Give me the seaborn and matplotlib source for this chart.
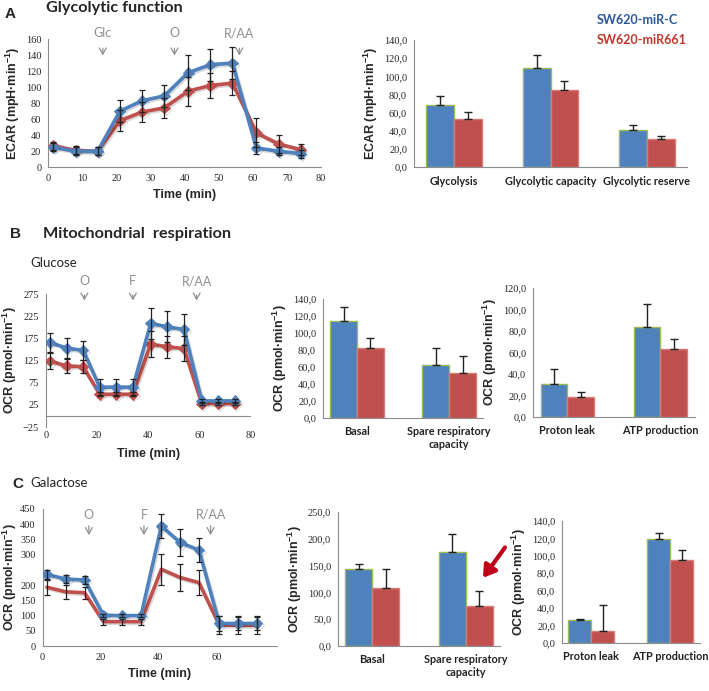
import matplotlib
matplotlib.use('Agg')
import matplotlib.pyplot as plt
import matplotlib.patheffects as pe
from matplotlib.ticker import FuncFormatter
import pandas as pd
import seaborn as sns

# ---- data -------------------------------------------------------------
times = [1.5, 8, 14.5, 21, 27.5, 34, 41, 47.5, 54, 61, 67.5, 74]

# A: glycolytic function (ECAR)
ecar_c = [25, 20, 20, 70, 83, 89, 118, 128, 130, 24, 20, 17]
ecar_c_err = [5, 5, 5, 14, 14, 14, 22, 20, 20, 8, 5, 5]
ecar_661 = [27, 21, 20, 58, 69, 74, 95, 102, 105, 43, 29, 22]
ecar_661_err = [5, 5, 5, 13, 13, 13, 18, 16, 15, 18, 11, 7]
inj_a = [16, 37, 56]
inj_a_lbl = ['Glc', 'O', 'R/AA']

glyco_cats = ['Glycolysis', 'Glycolytic capacity', 'Glycolytic reserve']
glyco_c = [68, 109, 41]
glyco_c_err = [10, 15, 5]
glyco_661 = [53, 85, 31]
glyco_661_err = [8, 10, 3]

# B: mitochondrial respiration, glucose (OCR)
glu_c = [166, 153, 148, 65, 65, 65, 209, 201, 195, 34, 34, 34]
glu_c_err = [22, 22, 22, 18, 18, 18, 35, 35, 35, 5, 5, 5]
glu_661 = [124, 113, 111, 49, 49, 49, 162, 156, 152, 28, 28, 28]
glu_661_err = [18, 15, 15, 5, 5, 5, 30, 25, 28, 3, 3, 3]
inj_b = [15, 34, 59]
inj_bc_lbl = ['O', 'F', 'R/AA']

resp_cats = ['Basal', 'Spare respiratory\ncapacity']
leak_cats = ['Proton leak', 'ATP production']
glu_resp_c = [114, 62]
glu_resp_c_err = [17, 20]
glu_resp_661 = [82, 53]
glu_resp_661_err = [12, 20]
glu_leak_c = [31, 84]
glu_leak_c_err = [14, 21]
glu_leak_661 = [19, 63]
glu_leak_661_err = [4, 10]

# C: galactose (OCR)
gal_c = [235, 220, 217, 101, 100, 100, 394, 340, 315, 74, 74, 74]
gal_c_err = [15, 12, 12, 5, 5, 5, 40, 45, 40, 25, 22, 22]
gal_661 = [193, 178, 175, 80, 80, 80, 252, 225, 208, 69, 68, 68]
gal_661_err = [25, 22, 20, 10, 10, 10, 50, 45, 40, 30, 30, 30]
inj_c = [16, 35, 58]

gal_resp_c = [143, 176]
gal_resp_c_err = [10, 32]
gal_resp_661 = [109, 74]
gal_resp_661_err = [34, 29]
gal_leak_c = [26, 119]
gal_leak_c_err = [2, 7]
gal_leak_661 = [14, 95]
gal_leak_661_err = [29, 12]

BLUE = '#4f81bd'
RED = '#c0504d'
GREEN = '#9bbb59'
GREY = '#8c8c8c'

sns.set_style('white')
# tick labels use the default family (serif, like the Excel original)
plt.rcParams['font.family'] = ['Liberation Serif', 'DejaVu Serif']
plt.rcParams['mathtext.fontset'] = 'custom'
plt.rcParams['mathtext.rm'] = 'Liberation Sans'
plt.rcParams['mathtext.bf'] = 'Liberation Sans:bold'

fig = plt.figure(figsize=(7.09, 6.91), dpi=100)

lab_font = dict(family='Liberation Sans', weight='bold', size=9)
ECAR_LBL = r'ECAR (mpH·min$^{\mathbf{-1}}$)'
OCR_LBL = r'OCR (pmol·min$^{\mathbf{-1}}$)'


def style_axis(ax):
    for s in ['top', 'right']:
        ax.spines[s].set_visible(False)
    for s in ['left', 'bottom']:
        ax.spines[s].set_color(GREY)
        ax.spines[s].set_linewidth(0.8)
    ax.tick_params(axis='both', length=3, width=0.6, color=GREY, pad=2,
                   labelsize=7.5)
    ax.yaxis.labelpad = 3


def line_panel(ax, c, c_err, r, r_err, red_marker=True):
    shadow = [pe.SimpleLineShadow(offset=(1, -1.2), alpha=0.15), pe.Normal()]
    sns.lineplot(x=times, y=r, color=RED, lw=2.6, ax=ax,
                 marker='D' if red_marker else None, markersize=5.5,
                 markeredgecolor=RED, zorder=3)
    ax.lines[-1].set_path_effects(shadow)
    sns.lineplot(x=times, y=c, color=BLUE, lw=2.6, ax=ax, marker='D',
                 markersize=5.5, markeredgecolor=BLUE, zorder=4)
    ax.lines[-1].set_path_effects(shadow)
    ax.errorbar(times, c, yerr=c_err, fmt='none', ecolor='#222222',
                elinewidth=0.9, capsize=2.2, capthick=0.9, zorder=5)
    ax.errorbar(times, r, yerr=r_err, fmt='none', ecolor='#222222',
                elinewidth=0.9, capsize=2.2, capthick=0.9, zorder=5)
    ax.set_xlabel('Time (min)', **lab_font)
    style_axis(ax)


def injections(ax, xs, labels, y_lbl, y0, y1):
    for x, l in zip(xs, labels):
        ax.annotate('', xy=(x, y1), xytext=(x, y0), annotation_clip=False,
                    arrowprops=dict(arrowstyle='->,head_width=0.25,head_length=0.45',
                                    color='#909090', lw=0.9))
        ax.text(x, y_lbl, l, ha='center', va='center', color='#909090',
                family='Lato', fontsize=9, clip_on=False)


def bar_panel(ax, cats, c, c_err, r, r_err, ymax, step):
    df = pd.DataFrame({'cat': cats * 2, 'val': c + r,
                       'grp': ['c'] * len(cats) + ['r'] * len(cats)})
    sns.barplot(data=df, x='cat', y='val', hue='grp', palette=[BLUE, RED],
                width=0.58, errorbar=None, legend=False, ax=ax, saturation=1)
    for cont, edge, err in zip(ax.containers, [GREEN, '#d77c7a'], [c_err, r_err]):
        xs, ys = [], []
        for bar in cont:
            bar.set_edgecolor(edge)
            bar.set_linewidth(1.0)
            xs.append(bar.get_x() + bar.get_width() / 2)
            ys.append(bar.get_height())
        ax.errorbar(xs, ys, yerr=[[0] * len(err), err], fmt='none',
                    ecolor='#222222', elinewidth=1.0, capsize=3, capthick=1.0)
    ax.set_ylim(0, ymax)
    ax.set_yticks(range(0, ymax + 1, step))
    ax.yaxis.set_major_formatter(FuncFormatter(lambda v, p: f'{v:.1f}'.replace('.', ',')))
    ax.set_xlabel('')
    ax.set_ylabel(OCR_LBL, **lab_font)
    style_axis(ax)
    ax.tick_params(axis='x', length=0, pad=6)
    for t in ax.get_xticklabels():
        t.set_fontfamily('Lato')
        t.set_fontweight('bold')
        t.set_fontsize(7.8)
        t.set_color('#222222')


# ---- panel A ----------------------------------------------------------
axA1 = fig.add_axes([0.068, 0.758, 0.385, 0.1855])
line_panel(axA1, ecar_c, ecar_c_err, ecar_661, ecar_661_err)
axA1.set_xlim(0, 80)
axA1.set_ylim(0, 160)
axA1.set_xticks(range(0, 81, 10))
axA1.set_yticks(range(0, 161, 20))
axA1.set_ylabel(ECAR_LBL, **lab_font)
injections(axA1, inj_a, inj_a_lbl, 167, 152, 136)

axA2 = fig.add_axes([0.584, 0.758, 0.385, 0.184])
bar_panel(axA2, glyco_cats, glyco_c, glyco_c_err, glyco_661, glyco_661_err, 140, 20)
axA2.set_ylabel(ECAR_LBL, **lab_font)

fig.text(5 / 709, 1 - 14 / 691, 'A', family='Liberation Sans', weight='bold',
         fontsize=11, va='center')
fig.text(46 / 709, 1 - 8 / 691, 'Glycolytic function', family='Lato',
         weight='bold', fontsize=11.7, va='center')
fig.text(597 / 709, 1 - 20 / 691, 'SW620-miR-C', family='Lato', weight='bold',
         fontsize=9, color='#2b5797', va='center')
fig.text(597 / 709, 1 - 40 / 691, 'SW620-miR661', family='Lato', weight='bold',
         fontsize=9, color='#c0392b', va='center')

# ---- panel B ----------------------------------------------------------
axB1 = fig.add_axes([0.065, 0.382, 0.288, 0.1925])
line_panel(axB1, glu_c, glu_c_err, glu_661, glu_661_err)
axB1.set_xlim(0, 80)
axB1.set_ylim(-25, 275)
axB1.set_xticks(range(0, 81, 20))
axB1.set_yticks(range(-25, 276, 50))
axB1.spines['bottom'].set_position(('data', 0))
axB1.tick_params(axis='x', pad=8)
axB1.set_ylabel(OCR_LBL, **lab_font)
axB1.xaxis.set_label_coords(0.5, -0.16)
injections(axB1, inj_b, inj_bc_lbl, 304, 279, 254)

axB2 = fig.add_axes([0.4556, 0.395, 0.226, 0.1725])
bar_panel(axB2, resp_cats, glu_resp_c, glu_resp_c_err, glu_resp_661,
          glu_resp_661_err, 140, 20)

axB3 = fig.add_axes([0.752, 0.3965, 0.228, 0.1867])
bar_panel(axB3, leak_cats, glu_leak_c, glu_leak_c_err, glu_leak_661,
          glu_leak_661_err, 120, 20)

fig.text(10 / 709, 1 - 234 / 691, 'B', family='Liberation Sans', weight='bold',
         fontsize=11, va='center')
fig.text(43 / 709, 1 - 234 / 691, 'Mitochondrial  respiration', family='Lato',
         weight='bold', fontsize=11.7, va='center')
fig.text(30 / 709, 1 - 263 / 691, 'Glucose', family='Lato', fontsize=9.5,
         va='center')

# ---- panel C ----------------------------------------------------------
axC1 = fig.add_axes([0.06, 0.0651, 0.331, 0.1983])
line_panel(axC1, gal_c, gal_c_err, gal_661, gal_661_err, red_marker=False)
axC1.set_xlim(0, 81)
axC1.set_ylim(0, 450)
axC1.set_xticks(range(0, 61, 20))
axC1.set_yticks([0, 50, 100, 150, 200, 300, 350, 400, 450])
axC1.set_ylabel(OCR_LBL, **lab_font)
axC1.yaxis.labelpad = 1
injections(axC1, inj_c, inj_bc_lbl, 431, 404, 355)

axC2 = fig.add_axes([0.4767, 0.0651, 0.2285, 0.194])
bar_panel(axC2, resp_cats, gal_resp_c, gal_resp_c_err, gal_resp_661,
          gal_resp_661_err, 250, 50)
axC2.annotate('', xy=(1.17, 123), xytext=(1.44, 188), annotation_clip=False,
              arrowprops=dict(arrowstyle='-|>,head_width=0.45,head_length=0.7',
                              color='#c00018', lw=3))

axC3 = fig.add_axes([0.7927, 0.0695, 0.194, 0.1766])
bar_panel(axC3, leak_cats, gal_leak_c, gal_leak_c_err, gal_leak_661,
          gal_leak_661_err, 140, 20)

fig.text(12 / 709, 1 - 484 / 691, 'C', family='Liberation Sans', weight='bold',
         fontsize=11, va='center')
fig.text(30 / 709, 1 - 483 / 691, 'Galactose', family='Lato', fontsize=9.5,
         va='center')

fig.savefig('out.png', dpi=100)
